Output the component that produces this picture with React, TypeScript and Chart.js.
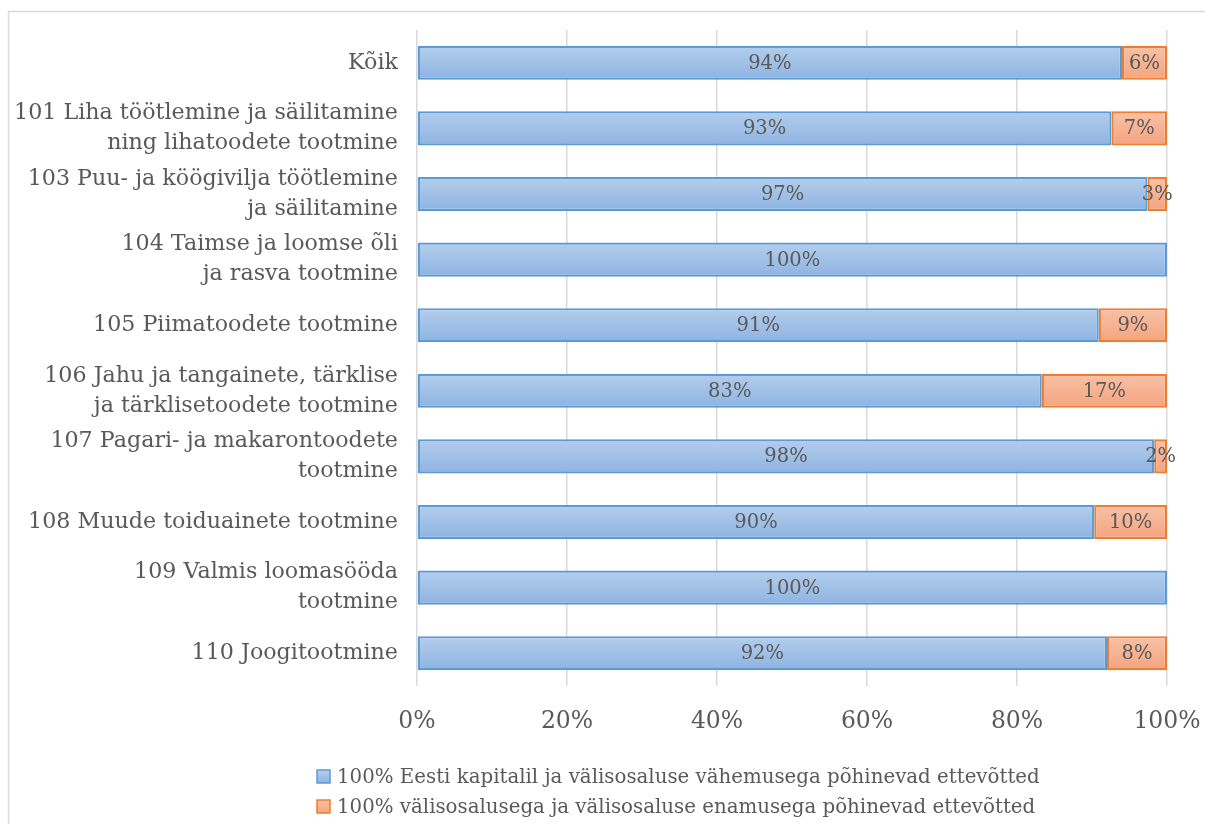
import React, { useEffect, useRef } from "react";
import { Chart, registerables } from "chart.js";

Chart.register(...registerables);

const categories: string[][] = [
  ["Kõik"],
  ["101 Liha töötlemine ja säilitamine", "ning lihatoodete tootmine"],
  ["103 Puu- ja köögivilja töötlemine", "ja säilitamine"],
  ["104 Taimse ja loomse õli", "ja rasva tootmine"],
  ["105 Piimatoodete tootmine"],
  ["106 Jahu ja tangainete, tärklise", "ja tärklisetoodete tootmine"],
  ["107 Pagari- ja makarontoodete", "tootmine"],
  ["108 Muude toiduainete tootmine"],
  ["109 Valmis loomasööda", "tootmine"],
  ["110 Joogitootmine"],
];

const domesticValues: number[] = [94.0, 92.6, 97.4, 100, 90.9, 83.3, 98.3, 90.3, 100, 92.0];
const foreignValues: number[] = [6.0, 7.4, 2.6, 0, 9.1, 16.7, 1.7, 9.7, 0, 8.0];

const seriesLabels: string[] = [
  "100% Eesti kapitalil ja välisosaluse vähemusega põhinevad ettevõtted",
  "100% välisosalusega ja välisosaluse enamusega põhinevad ettevõtted",
];

const xTicks: number[] = [0, 20, 40, 60, 80, 100];

const FONT = "'DejaVu Serif', serif";
const TEXT = "#595959";
const BAR_PCT = 0.52;

const palette = [
  { top: "#B4CEEC", bottom: "#8EB3E1", border: "#5B9BD5" },
  { top: "#F9C1A6", bottom: "#F4A47F", border: "#ED7D31" },
];

function barGradient(ctx: any, di: number) {
  const chart = ctx.chart;
  const p = palette[di];
  const yScale = chart.scales?.y;
  if (!chart.chartArea || !yScale || ctx.type !== "data") return p.bottom;
  const y = yScale.getPixelForValue(ctx.dataIndex);
  const h = (yScale.height / categories.length) * BAR_PCT;
  const g = chart.ctx.createLinearGradient(0, y - h / 2, 0, y + h / 2);
  g.addColorStop(0, p.top);
  g.addColorStop(1, p.bottom);
  return g;
}

const framePlugin = {
  id: "frame",
  beforeDraw(chart: any) {
    const c = chart.ctx;
    c.save();
    c.strokeStyle = "#D9D9D9";
    c.lineWidth = 1.5;
    c.strokeRect(8.5, 11.5, 1300, 900);
    c.restore();
  },
};

const valueLabelPlugin = {
  id: "valueLabels",
  afterDatasetsDraw(chart: any) {
    const c = chart.ctx;
    c.save();
    c.font = `19.5px ${FONT}`;
    c.fillStyle = TEXT;
    c.textAlign = "center";
    c.textBaseline = "middle";
    chart.data.datasets.forEach((ds: any, i: number) => {
      const meta = chart.getDatasetMeta(i);
      meta.data.forEach((el: any, j: number) => {
        const v = ds.data[j];
        if (!v) return;
        const cx = (el.x + el.base) / 2;
        c.fillText(`${Math.round(v)}%`, cx, el.y + 1);
      });
    });
    c.restore();
  },
};

const legendPlugin = {
  id: "customLegend",
  afterDraw(chart: any) {
    const c = chart.ctx;
    c.save();
    c.font = `19.8px ${FONT}`;
    c.textBaseline = "middle";
    c.textAlign = "left";
    chart.data.datasets.forEach((ds: any, i: number) => {
      const p = palette[i];
      const bx = 317;
      const by = 770 + i * 30;
      const s = 13;
      const g = c.createLinearGradient(0, by, 0, by + s);
      g.addColorStop(0, p.top);
      g.addColorStop(1, p.bottom);
      c.fillStyle = g;
      c.fillRect(bx, by, s, s);
      c.strokeStyle = p.border;
      c.lineWidth = 1.5;
      c.strokeRect(bx, by, s, s);
      c.fillStyle = TEXT;
      c.fillText(ds.label, 337, by + s / 2 + 1);
    });
    c.restore();
  },
};

export default function App() {
  const ref = useRef<HTMLCanvasElement | null>(null);

  useEffect(() => {
    if (!ref.current) return;
    const chart = new Chart(ref.current, {
      type: "bar",
      data: {
        labels: categories,
        datasets: [
          {
            label: seriesLabels[0],
            data: domesticValues,
            backgroundColor: (ctx: any) => barGradient(ctx, 0),
            borderColor: palette[0].border,
            borderWidth: 2.2,
            borderSkipped: false,
            categoryPercentage: 1,
            barPercentage: BAR_PCT,
          },
          {
            label: seriesLabels[1],
            data: foreignValues,
            backgroundColor: (ctx: any) => barGradient(ctx, 1),
            borderColor: palette[1].border,
            borderWidth: 2.2,
            borderSkipped: false,
            categoryPercentage: 1,
            barPercentage: BAR_PCT,
          },
        ],
      },
      options: {
        indexAxis: "y",
        animation: false,
        responsive: false,
        maintainAspectRatio: false,
        layout: { padding: { top: 30, right: 38, left: 0, bottom: 0 } },
        plugins: {
          legend: { display: false },
          tooltip: { enabled: false },
        },
        scales: {
          x: {
            stacked: true,
            min: 0,
            max: 100,
            afterBuildTicks: (scale: any) => {
              scale.ticks = xTicks.map((v) => ({ value: v }));
            },
            afterFit: (scale: any) => {
              scale.height = 138;
              scale.paddingLeft = 0;
              scale.paddingRight = 0;
            },
            ticks: {
              callback: (v: any) => `${v}%`,
              color: TEXT,
              font: { family: FONT, size: 23.5 },
              padding: 22,
              maxRotation: 0,
            },
            grid: { color: "#D9D9D9", lineWidth: 1.5, drawTicks: false },
            border: { display: false },
          },
          y: {
            stacked: true,
            afterFit: (scale: any) => {
              scale.width = 417;
              scale.paddingTop = 0;
              scale.paddingBottom = 0;
            },
            ticks: {
              color: TEXT,
              font: { family: FONT, size: 22.2, lineHeight: 1.35 },
              padding: 11,
              autoSkip: false,
            },
            grid: { display: false },
            border: { display: false },
          },
        },
      },
      plugins: [framePlugin, valueLabelPlugin, legendPlugin],
    } as any);
    return () => chart.destroy();
  }, []);

  return (
    <div style={{ position: "absolute", left: 0, top: 0, width: 1205, height: 824, background: "#fff" }}>
      <canvas ref={ref} width={1205} height={824} style={{ display: "block" }} />
    </div>
  );
}
